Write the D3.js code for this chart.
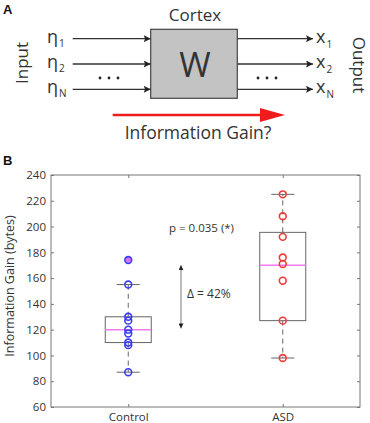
<!DOCTYPE html>
<html>
<head>
<meta charset="utf-8">
<script src="https://cdn.jsdelivr.net/npm/d3@7"></script>
<style>
  body { margin: 0; background: #fff; }
  text { font-family: "Open Sans", "Noto Sans", sans-serif; fill: #333; }
</style>
</head>
<body>
<svg width="370" height="423"></svg>
<script>
// panel A labels
var inputSubs = ["1", "2", "N"];
var outputSubs = ["1", "2", "N"];

// panel B data
var groups = ["Control", "ASD"];
var controlPoints = [174, 155, 130, 127, 120, 117, 110, 108, 87];
var asdPoints = [225, 208, 192, 176, 171, 158, 127, 98];
var boxQ1 = [110, 127];
var boxMedian = [120, 170];
var boxQ3 = [130, 195.5];
var whiskerLow = [87, 98];
var whiskerHigh = [155, 225];
var outliers = [[174], []];
var yTicks = [60, 80, 100, 120, 140, 160, 180, 200, 220, 240];
var deltaRange = [170, 121];

var svg = d3.select("svg");

// ---------- panel A ----------
var defs = svg.append("defs");
defs.append("marker")
    .attr("id", "head")
    .attr("viewBox", "0 0 10 10")
    .attr("refX", 10).attr("refY", 5)
    .attr("markerWidth", 9).attr("markerHeight", 7)
    .attr("markerUnits", "userSpaceOnUse")
    .attr("orient", "auto")
  .append("path").attr("d", "M0,0L10,5L0,10L2,5Z").attr("fill", "#222");
defs.append("marker")
    .attr("id", "small")
    .attr("viewBox", "0 0 10 10")
    .attr("refX", 10).attr("refY", 5)
    .attr("markerWidth", 5).attr("markerHeight", 5)
    .attr("markerUnits", "userSpaceOnUse")
    .attr("orient", "auto-start-reverse")
  .append("path").attr("d", "M0,0L10,5L0,10Z").attr("fill", "#222");

var a = svg.append("g");
a.append("text").attr("x", 3).attr("y", 14).text("A")
    .style("font-family", "Liberation Sans, Arial").style("font-weight", "bold").style("font-size", "13px").style("fill", "#111");

var rowY = d3.scalePoint().domain(inputSubs).range([38.7, 89.3]);
var dotsY = 78;

a.append("rect").attr("x", 150.7).attr("y", 29.3).attr("width", 86.6).attr("height", 69)
    .attr("fill", "#c3c3c3").attr("stroke", "#444").attr("stroke-width", 1.2);
a.append("text").attr("x", 195).attr("y", 21).attr("text-anchor", "middle")
    .style("font-size", "17px").text("Cortex");
a.append("text").attr("x", 195).attr("y", 77).attr("text-anchor", "middle")
    .style("font-size", "34px").text("W");

a.selectAll(".in").data(inputSubs).enter().append("line")
    .attr("x1", 72.7).attr("x2", 150.7)
    .attr("y1", function(d) { return rowY(d); }).attr("y2", function(d) { return rowY(d); })
    .attr("stroke", "#333").attr("stroke-width", 1.3).attr("marker-end", "url(#head)");
a.selectAll(".out").data(outputSubs).enter().append("line")
    .attr("x1", 237.3).attr("x2", 313)
    .attr("y1", function(d) { return rowY(d); }).attr("y2", function(d) { return rowY(d); })
    .attr("stroke", "#333").attr("stroke-width", 1.3).attr("marker-end", "url(#head)");

var eta = a.selectAll(".eta").data(inputSubs).enter().append("text")
    .attr("x", 47).attr("y", function(d) { return rowY(d) + 4; })
    .style("font-size", "18px");
eta.append("tspan").text("\u03B7");
eta.append("tspan").attr("dx", 1).attr("dy", 4).style("font-size", "10px").text(function(d) { return d; });

var xs = a.selectAll(".xl").data(outputSubs).enter().append("text")
    .attr("x", 316).attr("y", function(d) { return rowY(d) + 4; })
    .style("font-size", "18px");
xs.append("tspan").text("x");
xs.append("tspan").attr("dx", 1).attr("dy", 5).style("font-size", "10px").text(function(d) { return d; });

// ellipsis dots
[[100, 109, 118], [258, 267, 276]].forEach(function(set) {
  a.selectAll(null).data(set).enter().append("circle")
      .attr("cx", function(d) { return d; }).attr("cy", dotsY).attr("r", 1.4).attr("fill", "#222");
});

a.append("text").attr("transform", "translate(28,63) rotate(-90)").attr("text-anchor", "middle")
    .style("font-size", "17px").text("Input");
a.append("text").attr("transform", "translate(353,65) rotate(90)").attr("text-anchor", "middle")
    .style("font-size", "17px").text("Output");

a.append("line").attr("x1", 112.7).attr("x2", 262).attr("y1", 115).attr("y2", 115)
    .attr("stroke", "#ee1c1c").attr("stroke-width", 2.4);
a.append("path").attr("d", "M260,108L285,115L260,122Z").attr("fill", "#ee1c1c");
a.append("text").attr("x", 198).attr("y", 139).attr("text-anchor", "middle")
    .style("font-size", "17.5px").text("Information Gain?");

// ---------- panel B ----------
var pLeft = 51, pRight = 360, pTop = 175, pBottom = 407;
var x = d3.scalePoint().domain(groups).range([pLeft, pRight]).padding(0.5);
var y = d3.scaleLinear().domain([60, 240]).range([pBottom, pTop]);
var points = [controlPoints, asdPoints];
var colors = ["#3a3af5", "#f03a3a"];
var boxW = 46;

var b = svg.append("g");
b.append("text").attr("x", 3).attr("y", 165).text("B")
    .style("font-family", "Liberation Sans, Arial").style("font-weight", "bold").style("font-size", "13px").style("fill", "#111");

b.append("rect").attr("x", pLeft).attr("y", pTop).attr("width", pRight - pLeft).attr("height", pBottom - pTop)
    .attr("fill", "none").attr("stroke", "#777").attr("stroke-width", 1);

var yAxis = b.append("g").attr("transform", "translate(" + pLeft + ",0)")
    .call(d3.axisLeft(y).tickValues(yTicks).tickSize(-3).tickPadding(5));
yAxis.select(".domain").remove();
yAxis.selectAll("line").attr("stroke", "#777");
yAxis.selectAll("text").style("font-size", "11.5px").style("fill", "#333").style("font-family", "Open Sans, sans-serif");

var yAxisR = b.append("g").attr("transform", "translate(" + pRight + ",0)")
    .call(d3.axisRight(y).tickValues(yTicks).tickSize(-3).tickFormat(""));
yAxisR.select(".domain").remove();
yAxisR.selectAll("line").attr("stroke", "#777");

var xAxis = b.append("g").attr("transform", "translate(0," + pBottom + ")")
    .call(d3.axisBottom(x).tickSize(-3).tickPadding(6));
xAxis.select(".domain").remove();
xAxis.selectAll("line").attr("stroke", "#777");
xAxis.selectAll("text").style("font-size", "11.5px").style("fill", "#333").style("font-family", "Open Sans, sans-serif");

var xAxisT = b.append("g").attr("transform", "translate(0," + pTop + ")")
    .call(d3.axisTop(x).tickSize(-3).tickFormat(""));
xAxisT.select(".domain").remove();
xAxisT.selectAll("line").attr("stroke", "#777");

b.append("text").attr("transform", "translate(14,286) rotate(-90)").attr("text-anchor", "middle")
    .style("font-size", "12.5px").text("Information Gain (bytes)");

groups.forEach(function(g, i) {
  var cx = x(g);
  var gg = b.append("g");
  // whiskers
  gg.append("line").attr("x1", cx).attr("x2", cx).attr("y1", y(boxQ3[i])).attr("y2", y(whiskerHigh[i]))
      .attr("stroke", "#666").attr("stroke-dasharray", "5,4");
  gg.append("line").attr("x1", cx).attr("x2", cx).attr("y1", y(boxQ1[i])).attr("y2", y(whiskerLow[i]))
      .attr("stroke", "#666").attr("stroke-dasharray", "5,4");
  [whiskerHigh[i], whiskerLow[i]].forEach(function(v) {
    gg.append("line").attr("x1", cx - boxW / 4).attr("x2", cx + boxW / 4).attr("y1", y(v)).attr("y2", y(v))
        .attr("stroke", "#666");
  });
  gg.append("rect").attr("x", cx - boxW / 2).attr("width", boxW)
      .attr("y", y(boxQ3[i])).attr("height", y(boxQ1[i]) - y(boxQ3[i]))
      .attr("fill", "none").attr("stroke", "#666");
  gg.append("line").attr("x1", cx - boxW / 2).attr("x2", cx + boxW / 2)
      .attr("y1", y(boxMedian[i])).attr("y2", y(boxMedian[i]))
      .attr("stroke", "#f07af0").attr("stroke-width", 1.5);
  gg.selectAll(".out").data(outliers[i]).enter().append("circle")
      .attr("cx", cx).attr("cy", function(d) { return y(d); }).attr("r", 3)
      .attr("fill", "#e070f0");
  gg.selectAll(".pt").data(points[i]).enter().append("circle")
      .attr("cx", cx).attr("cy", function(d) { return y(d); }).attr("r", 3.4)
      .attr("fill", "none").attr("stroke", colors[i]).attr("stroke-width", 1.6);
});

// annotations
b.append("text").attr("x", 169).attr("y", 232).style("font-size", "11.5px").text("p = 0.035 (*)");
b.append("line").attr("x1", 181).attr("x2", 181).attr("y1", y(deltaRange[0])).attr("y2", y(deltaRange[1]))
    .attr("stroke", "#999").attr("stroke-width", 1.3)
    .attr("marker-start", "url(#small)").attr("marker-end", "url(#small)");
b.append("text").attr("x", 187).attr("y", 298).style("font-size", "12px").text("\u0394 = 42%");
</script>
</body>
</html>
